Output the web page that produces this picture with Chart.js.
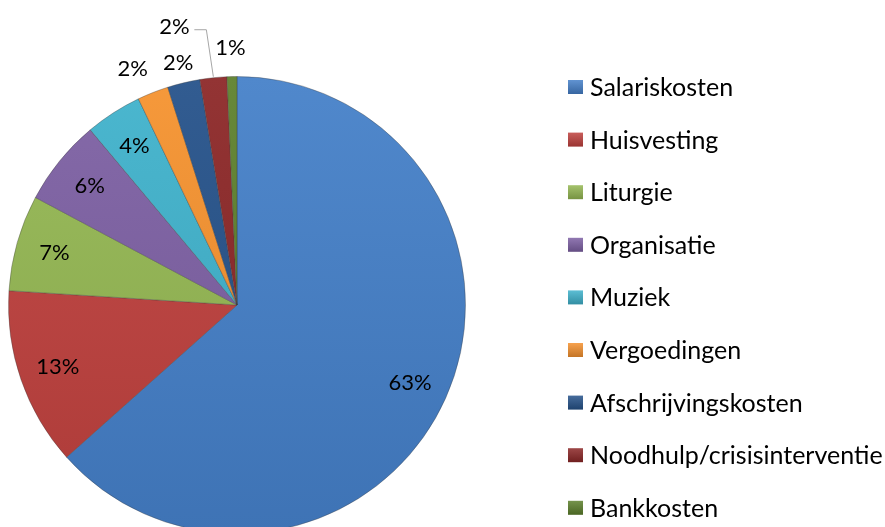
<!DOCTYPE html>
<html>
<head>
<meta charset="utf-8">
<script src="https://cdn.jsdelivr.net/npm/chart.js@4.4.1/dist/chart.umd.min.js"></script>
<style>
    html, body { margin: 0; padding: 0; background: #fff; overflow: hidden; }
    #wrap { width: 885px; height: 540px; }
</style>
</head>
<body>
<div id="wrap"><canvas id="kostenChart" width="885" height="540"></canvas></div>
<script>
const categories = ['Salariskosten', 'Huisvesting', 'Liturgie', 'Organisatie', 'Muziek',
    'Vergoedingen', 'Afschrijvingskosten', 'Noodhulp/crisisinterventie', 'Bankkosten'];
const shares = [63.4, 12.6, 6.8, 6.1, 4.0, 2.2, 2.3, 1.9, 0.7];
const sliceColors = ['#4580c9', '#c0413e', '#95b853', '#7d60a4', '#3fb2cc',
    '#f5922f', '#25528a', '#8c2727', '#5d802c'];

const FONT = 'Lato, "Open Sans", sans-serif';

function shade(hex, amt) {
    const n = parseInt(hex.slice(1), 16);
    const f = c => Math.max(0, Math.min(255, Math.round(c + amt * (amt > 0 ? 255 - c : c))));
    return 'rgb(' + f(n >> 16) + ',' + f((n >> 8) & 255) + ',' + f(n & 255) + ')';
}

// percentage labels, inside for big slices, outside for the thin ones
const pctLabels = {
    id: 'pctLabels',
    afterDatasetsDraw(chart) {
        const ctx = chart.ctx;
        const total = shares.reduce((a, b) => a + b, 0);
        const outside = { 5: [-10, 2], 6: [1, 7], 8: [-1, -1] };
        ctx.save();
        ctx.font = '22px ' + FONT;
        ctx.fillStyle = '#000';
        ctx.textAlign = 'center';
        ctx.textBaseline = 'middle';
        chart.getDatasetMeta(0).data.forEach((arc, i) => {
            const p = arc.getProps(['x', 'y', 'startAngle', 'endAngle', 'outerRadius'], true);
            const mid = (p.startAngle + p.endAngle) / 2;
            const txt = Math.round(shares[i] / total * 100) + '%';
            const r = p.outerRadius;
            if (i === 7) {
                const ex = p.x + Math.cos(mid) * r, ey = p.y + Math.sin(mid) * r;
                const lx = ex - 39, ly = ey - 51;
                ctx.strokeStyle = '#a6a6a6';
                ctx.lineWidth = 1;
                ctx.beginPath();
                ctx.moveTo(ex, ey - 1);
                ctx.lineTo(ex - 7, ly + 3);
                ctx.lineTo(lx + 20, ly + 3);
                ctx.stroke();
                ctx.fillText(txt, lx, ly);
            } else if (outside[i]) {
                const d = r * 1.12;
                ctx.fillText(txt, p.x + Math.cos(mid) * d + outside[i][0], p.y + Math.sin(mid) * d + outside[i][1]);
            } else {
                const d = r * 0.83;
                ctx.fillText(txt, p.x + Math.cos(mid) * d, p.y + Math.sin(mid) * d);
            }
        });
        ctx.restore();
    }
};

// legend on the right, Excel style spacing
const sideLegend = {
    id: 'sideLegend',
    afterDraw(chart) {
        const ctx = chart.ctx;
        ctx.save();
        ctx.font = '25px ' + FONT;
        ctx.textBaseline = 'middle';
        ctx.textAlign = 'left';
        categories.forEach((name, i) => {
            const y = 87 + i * 52.6;
            const g = ctx.createLinearGradient(0, y - 7, 0, y + 7);
            g.addColorStop(0, shade(sliceColors[i], 0.15));
            g.addColorStop(1, shade(sliceColors[i], -0.2));
            ctx.fillStyle = g;
            ctx.fillRect(568, y - 7, 15, 14);
            ctx.fillStyle = '#000';
            ctx.fillText(name, 590, y + 1);
        });
        ctx.restore();
    }
};

new Chart(document.getElementById('kostenChart'), {
    type: 'pie',
    data: {
        labels: categories,
        datasets: [{
            data: shares,
            backgroundColor: ctx => {
                const area = ctx.chart.chartArea;
                const base = sliceColors[ctx.dataIndex];
                if (!area) return base;
                const g = ctx.chart.ctx.createLinearGradient(0, area.top, 0, area.bottom);
                g.addColorStop(0, shade(base, 0.06));
                g.addColorStop(1, shade(base, -0.1));
                return g;
            },
            borderColor: 'rgba(60,60,60,0.35)',
            borderWidth: 1
        }]
    },
    options: {
        responsive: false,
        animation: false,
        layout: { padding: { left: 8, top: 76, right: 419, bottom: 6 } },
        plugins: {
            legend: { display: false },
            tooltip: { enabled: false }
        }
    },
    plugins: [pctLabels, sideLegend]
});
</script>
</body>
</html>
